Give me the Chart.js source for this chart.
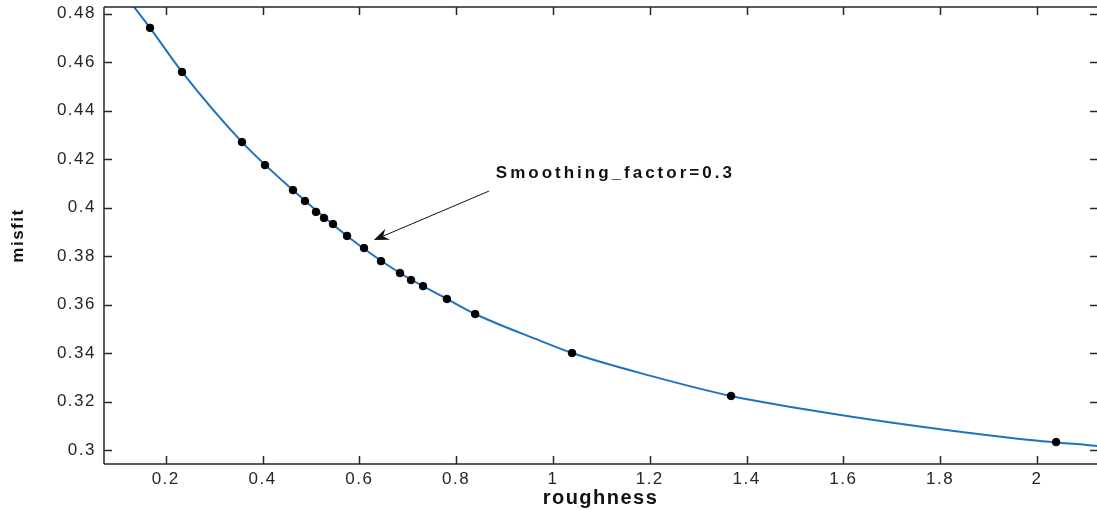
<!DOCTYPE html>
<html>
<head>
<meta charset="utf-8">
<script src="https://cdn.jsdelivr.net/npm/chart.js@4"></script>
<style>
  html, body { margin: 0; padding: 0; background: #fff; }
  #wrap { width: 1097px; height: 510px; }
</style>
</head>
<body>
<div id="wrap"><canvas id="myChart" width="1097" height="510"></canvas></div>
<script>
// points on the L-curve (black dots)
const roughness = [0.1676, 0.2337, 0.3576, 0.4051, 0.4629, 0.4877, 0.5105, 0.527, 0.5456, 0.5746,
  0.6097, 0.6448, 0.684, 0.7068, 0.7316, 0.781, 0.8393, 1.0395, 1.368, 2.0395];
const misfit = [0.4742, 0.4560, 0.4271, 0.4176, 0.4073, 0.4028, 0.3983, 0.3958, 0.3933, 0.3884,
  0.3834, 0.3780, 0.3731, 0.3702, 0.3677, 0.3624, 0.3562, 0.3401, 0.3224, 0.3034];

// the smooth blue curve
const curveX = [0.128, 0.1676, 0.2337, 0.3576, 0.4629, 0.5746, 0.6840, 0.7810, 0.8393, 0.9733, 1.0395,
  1.2, 1.368, 1.552, 1.758, 1.965, 2.13];
const curveY = [0.4845, 0.4742, 0.4560, 0.4271, 0.4073, 0.3884, 0.3731, 0.3624, 0.3562, 0.3452, 0.3401,
  0.3308, 0.3224, 0.3159, 0.3098, 0.3047, 0.3017];

const xTicks = [0.2, 0.4, 0.6, 0.8, 1, 1.2, 1.4, 1.6, 1.8, 2];
const yTicks = [0.3, 0.32, 0.34, 0.36, 0.38, 0.4, 0.42, 0.44, 0.46, 0.48];

const noteText = 'Smoothing_factor=0.3';
const notePos = [0.882, 0.4143];     // text left / middle
const arrowFrom = [0.868, 0.4069];
const arrowTo = [0.630, 0.3867];

const ink = '#262626';

// frame with inward ticks on all four sides, plus the annotation
const framePlugin = {
  id: 'frame',
  beforeDraw(chart) {
    chart.ctx.letterSpacing = '1.5px';
  },
  afterDraw(chart) {
    const ctx = chart.ctx;
    const a = chart.chartArea;
    const xs = chart.scales.x, ys = chart.scales.y;
    ctx.save();
    ctx.letterSpacing = '0px';
    ctx.strokeStyle = ink;
    ctx.lineWidth = 1.5;
    ctx.beginPath();
    ctx.moveTo(a.left, a.top); ctx.lineTo(a.right, a.top);
    ctx.moveTo(a.left, a.top); ctx.lineTo(a.left, a.bottom);
    ctx.moveTo(a.left, a.bottom); ctx.lineTo(a.right, a.bottom);
    xTicks.forEach(v => {
      const px = Math.round(xs.getPixelForValue(v)) + 0.5;
      ctx.moveTo(px, a.bottom); ctx.lineTo(px, a.bottom - 8);
      ctx.moveTo(px, a.top); ctx.lineTo(px, a.top + 8);
    });
    yTicks.forEach(v => {
      const py = Math.round(ys.getPixelForValue(v)) + 0.5;
      ctx.moveTo(a.left, py); ctx.lineTo(a.left + 8, py);
      ctx.moveTo(a.right, py); ctx.lineTo(a.right - 7, py);
    });
    ctx.stroke();

    // annotation arrow
    const x0 = xs.getPixelForValue(arrowFrom[0]), y0 = ys.getPixelForValue(arrowFrom[1]);
    const x1 = xs.getPixelForValue(arrowTo[0]), y1 = ys.getPixelForValue(arrowTo[1]);
    const ang = Math.atan2(y1 - y0, x1 - x0);
    ctx.strokeStyle = '#111';
    ctx.lineWidth = 1;
    ctx.beginPath();
    ctx.moveTo(x0, y0); ctx.lineTo(x1 - 8 * Math.cos(ang), y1 - 8 * Math.sin(ang));
    ctx.stroke();
    ctx.fillStyle = '#111';
    ctx.translate(x1, y1);
    ctx.rotate(ang);
    ctx.beginPath();
    ctx.moveTo(0, 0);
    ctx.lineTo(-15, -6);
    ctx.lineTo(-10, 0);
    ctx.lineTo(-15, 6);
    ctx.closePath();
    ctx.fill();
    ctx.restore();

    ctx.save();
    ctx.letterSpacing = '3px';
    ctx.font = 'bold 17px "Liberation Sans", Arial, sans-serif';
    ctx.fillStyle = '#111';
    ctx.textBaseline = 'middle';
    ctx.fillText(noteText, xs.getPixelForValue(notePos[0]), ys.getPixelForValue(notePos[1]));
    ctx.restore();
  }
};

const ctx = document.getElementById('myChart').getContext('2d');

const myChart = new Chart(ctx, {
  type: 'scatter',
  data: {
    datasets: [
      {
        type: 'line',
        data: curveX.map((x, i) => ({ x: x, y: curveY[i] })),
        borderColor: '#1f72c0',
        borderWidth: 2,
        pointRadius: 0,
        cubicInterpolationMode: 'monotone',
        fill: false,
        order: 2
      },
      {
        data: roughness.map((x, i) => ({ x: x, y: misfit[i] })),
        backgroundColor: '#000',
        borderColor: '#000',
        pointRadius: 3.8,
        order: 1
      }
    ]
  },
  options: {
    responsive: false,
    animation: false,
    layout: { autoPadding: false, padding: { top: 7, right: 0, left: 0, bottom: 0 } },
    plugins: { legend: { display: false }, tooltip: { enabled: false } },
    scales: {
      x: {
        type: 'linear',
        min: 0.0725,
        max: 2.124,
        afterBuildTicks: s => { s.ticks = xTicks.map(v => ({ value: v })); },
        afterFit: s => { s.height = 46; s.paddingLeft = 0; s.paddingRight = 0; },
        grid: { display: false, drawTicks: false },
        border: { display: false },
        ticks: {
          padding: 5,
          color: ink,
          font: { family: '"Liberation Sans", Arial, sans-serif', size: 17 },
          callback: v => String(+v.toFixed(2))
        },
        title: {
          display: true,
          text: 'roughness',
          color: '#111',
          font: { family: '"Liberation Sans", Arial, sans-serif', size: 20, weight: 'bold' },
          padding: { top: 0, bottom: 0 }
        }
      },
      y: {
        min: 0.29435,
        max: 0.4828,
        afterBuildTicks: s => { s.ticks = yTicks.map(v => ({ value: v })); },
        afterFit: s => { s.width = 104; s.paddingTop = 0; s.paddingBottom = 0; },
        grid: { display: false, drawTicks: false },
        border: { display: false },
        ticks: {
          padding: 8,
          color: ink,
          font: { family: '"Liberation Sans", Arial, sans-serif', size: 17 },
          callback: v => String(+v.toFixed(2))
        },
        title: {
          display: true,
          text: 'misfit',
          color: '#111',
          font: { family: '"Liberation Sans", Arial, sans-serif', size: 17, weight: 'bold' },
          padding: { top: 8, bottom: 0 }
        }
      }
    }
  },
  plugins: [framePlugin]
});
</script>
</body>
</html>
